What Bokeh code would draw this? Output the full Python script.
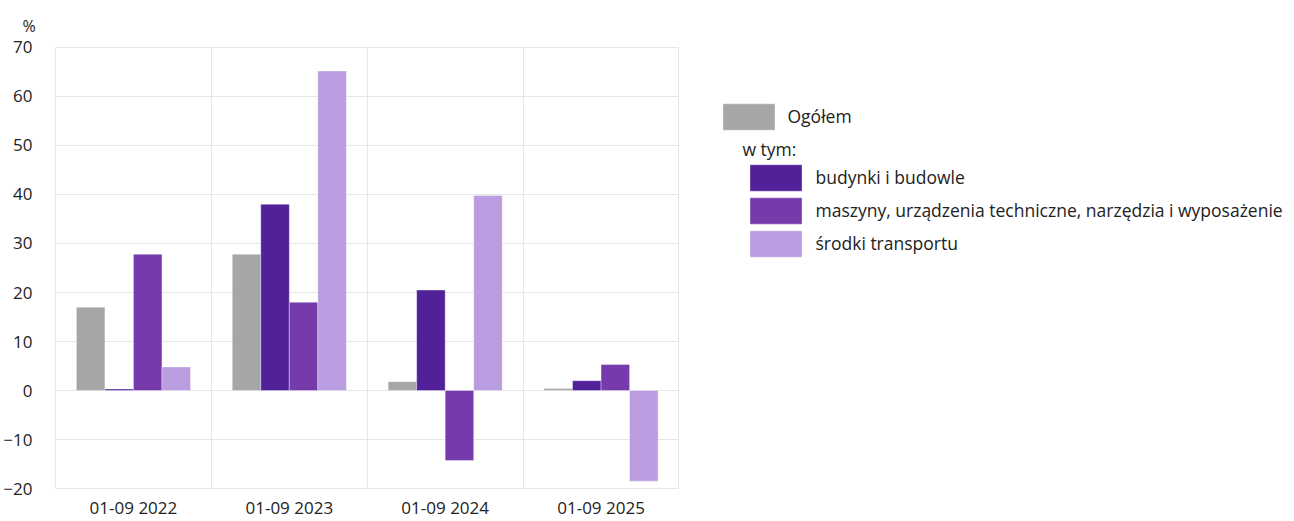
from bokeh.plotting import figure
from bokeh.models import (ColumnDataSource, Legend, LegendItem, FixedTicker, Grid, Range1d)
from bokeh.transform import dodge
from bokeh.embed import file_html
from bokeh.resources import INLINE

categories = ["01-09 2022", "01-09 2023", "01-09 2024", "01-09 2025"]
ogolem = [17.0, 27.8, 1.8, 0.4]
budynki = [0.3, 38.0, 20.5, 2.0]
maszyny = [27.8, 18.0, -14.3, 5.3]
srodki = [4.8, 65.2, 39.8, -18.5]
y_ticks = [-20, -10, 0, 10, 20, 30, 40, 50, 60, 70]

names = ["Ogółem", "budynki i budowle",
         "maszyny, urządzenia techniczne, narzędzia i wyposażenie",
         "środki transportu"]
colors = ["#a6a6a6", "#51219a", "#763aab", "#b99de0"]

src = ColumnDataSource(dict(x=list(range(len(categories))), ogolem=ogolem,
                            budynki=budynki, maszyny=maszyny, srodki=srodki))

FONT = "Open Sans"
LFONT = "Open Sans"
W, H = 1294, 521
LEFT, TOP, BOTTOM = 53, 46, 30
CAT_PX = 156  # pixels per category
PAD = 1       # one pixel of room so the frame edge lines are fully visible
n = len(categories)
x_start = -0.5 - PAD / CAT_PX
x_end = x_start + (W - LEFT) / CAT_PX
frame_h = H - TOP - BOTTOM
unit_px = (frame_h - 2 * PAD) / (y_ticks[-1] - y_ticks[0])
y_pad = PAD / unit_px

p = figure(width=W, height=H, output_backend="svg", toolbar_location=None,
           x_range=Range1d(x_start, x_end),
           y_range=Range1d(y_ticks[0] - y_pad, y_ticks[-1] + y_pad),
           min_border_left=LEFT, min_border_top=TOP, min_border_bottom=BOTTOM,
           min_border_right=0, title="%")
p.title.align = "left"
p.title.offset = -32
p.title.text_font = FONT
p.title.text_font_size = "16px"
p.title.text_font_style = "normal"
p.title.text_color = "#222222"
p.title.standoff = 19

bw = 0.183
offs = [-1.5 * bw, -0.5 * bw, 0.5 * bw, 1.5 * bw]
cols = ["ogolem", "budynki", "maszyny", "srodki"]
rends = []
for c, o, col in zip(cols, offs, colors):
    rends.append(p.vbar(x=dodge("x", o, range=p.x_range), top=c, bottom=0, width=bw,
                        source=src, fill_color=col, line_color="white",
                        line_width=0.6, line_alpha=0.6))

p.xaxis.ticker = FixedTicker(ticks=list(range(n)))
p.xaxis.major_label_overrides = {i: c for i, c in enumerate(categories)}
p.yaxis.ticker = FixedTicker(ticks=y_ticks)
for ax in (p.xaxis[0], p.yaxis[0]):
    ax.axis_line_color = None
    ax.major_tick_line_color = None
    ax.minor_tick_line_color = None
    ax.major_tick_out = 0
    ax.major_tick_in = 0
    ax.minor_tick_out = 0
    ax.major_label_text_font = FONT
    ax.major_label_text_font_size = "17px"
    ax.major_label_text_color = "#222222"
p.yaxis.major_label_standoff = 22
p.xaxis.major_label_standoff = 6

p.ygrid.ticker = FixedTicker(ticks=y_ticks)
p.ygrid.grid_line_color = "#e6e6e6"
p.ygrid.cross_bounds = (-0.5, n - 0.5)
p.xgrid.grid_line_color = None
p.add_layout(Grid(dimension=0, ticker=FixedTicker(ticks=[i - 0.5 for i in range(n + 1)]),
                  grid_line_color="#e6e6e6", cross_bounds=(y_ticks[0], y_ticks[-1])))
p.outline_line_color = None
p.border_fill_color = "white"

fb = H - BOTTOM  # frame bottom in pixels
fl = LEFT
common = dict(glyph_width=65, glyph_height=33, label_height=33, padding=0, margin=0,
              spacing=0, border_line_color=None, background_fill_alpha=0,
              label_text_font=LFONT, label_text_font_size="17.5px",
              label_text_color="#222222")
leg1 = Legend(items=[LegendItem(label=names[0], renderers=[rends[0]])],
              location=(714.5 - fl, fb - 134.5), label_standoff=7, **common)
leg2 = Legend(items=[LegendItem(label=names[i], renderers=[rends[i]]) for i in (1, 2, 3)],
              location=(741.5 - fl, fb - 261.5), label_standoff=8,
              title="w tym:", title_text_font=LFONT, title_text_font_size="17.5px",
              title_text_font_style="normal", title_text_color="#222222",
              title_standoff=0, **common)
p.add_layout(leg1)
p.add_layout(leg2)

open("out.html", "w").write(file_html(p, INLINE))
